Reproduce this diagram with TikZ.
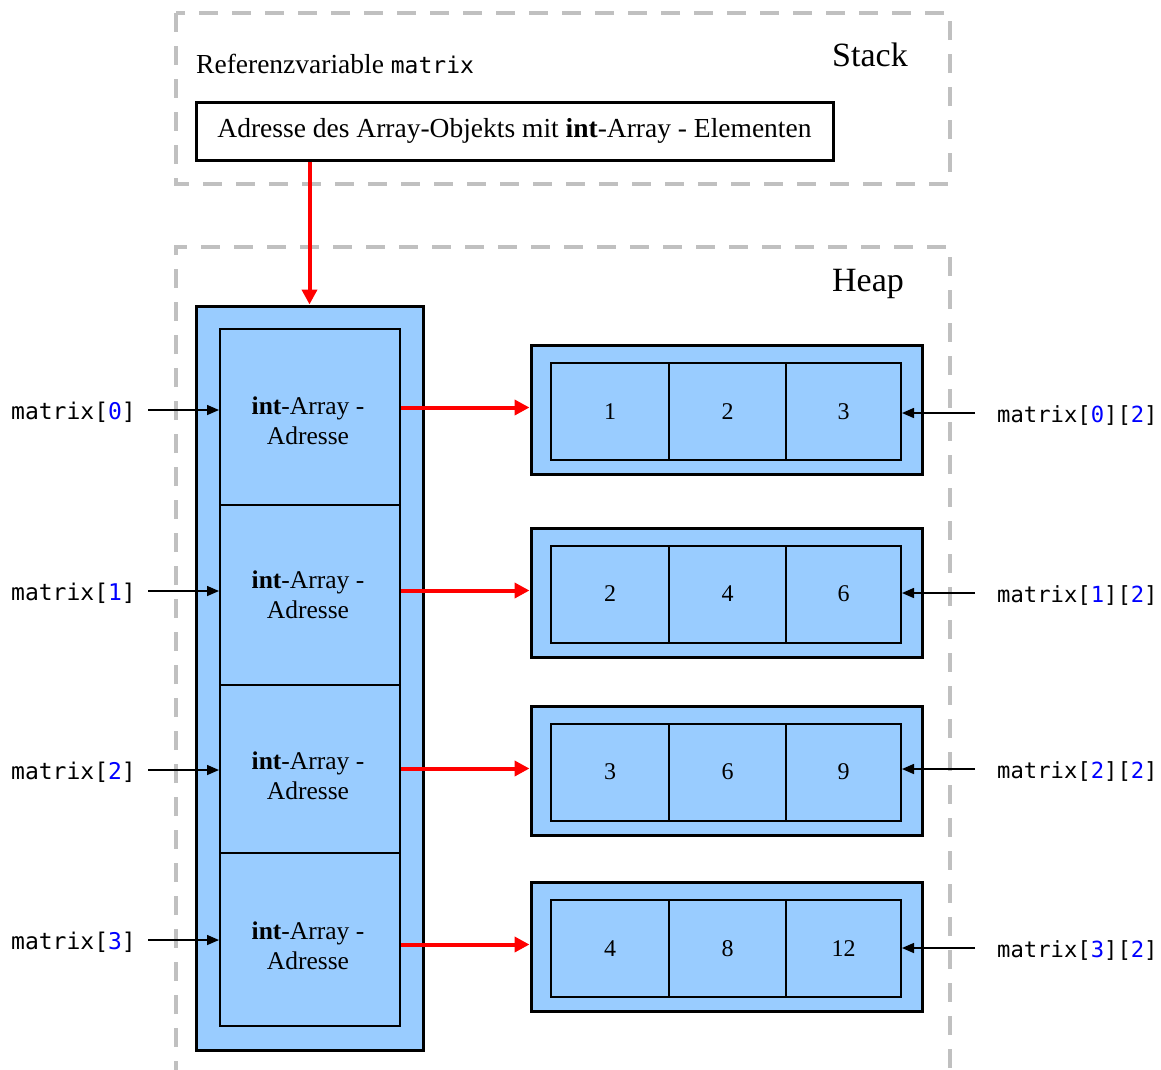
\documentclass[tikz,border=0pt]{standalone}
\usepackage{fontspec}
\setmainfont{Liberation Serif}
\setmonofont{DejaVu Sans Mono}
\usetikzlibrary{arrows.meta}
\definecolor{boxblue}{RGB}{153,204,255}
\definecolor{dashgray}{RGB}{192,192,192}
\definecolor{idxblue}{RGB}{0,0,255}
\newcommand{\mtx}[1]{\texttt{matrix[\textcolor{idxblue}{#1}]}}
\newcommand{\mtxx}[1]{\texttt{matrix[\textcolor{idxblue}{#1}][\textcolor{idxblue}{2}]}}
\begin{document}
\begin{tikzpicture}[x=1pt,y=-1pt,
  every node/.style={font=\fontsize{24}{30}\selectfont},
  dashbox/.style={draw=dashgray,line width=4pt,dash pattern=on 19pt off 14pt},
  outerbox/.style={draw,line width=3pt,fill=boxblue,inner sep=0pt},
  cellbox/.style={draw,line width=2pt,fill=boxblue,inner sep=0pt,align=center},
  celltext/.style={align=center,inner sep=0pt,font=\fontsize{25.5}{30}\selectfont},
  plainbox/.style={draw,line width=3pt,inner sep=0pt,font=\fontsize{27.5}{32}\selectfont},
  lab/.style={inner sep=0pt,font=\fontsize{23}{27}\selectfont},
  rlab/.style={inner sep=0pt,font=\fontsize{22.2}{27}\selectfont},
  big/.style={font=\fontsize{34}{40}\selectfont},
  blk/.style={line width=1.5pt,-{Triangle[length=12pt,width=10pt]}},
  redarr/.style={draw=red,line width=4pt,-{Triangle[length=15pt,width=15pt]}}]
\useasboundingbox (0,0) rectangle (1161,1069);

% stack and heap frames
\draw[dashbox] (176,13) rectangle (950,184);
\draw[dashbox] (176,1080) -- (176,247) -- (950,247) -- (950,1080);
\node[big] (stack) at (870,55) {Stack};
\node[big] (heap) at (868,284) {Heap};

% reference variable
\node[anchor=west,inner sep=0pt,font=\fontsize{27.5}{32}\selectfont] (refvar) at (196,64) {Referenzvariable \texttt{\fontsize{23}{27}\selectfont matrix}};
\node[plainbox,minimum width=637pt,minimum height=58pt] (addr) at (514.5,131)
  {Adresse des Array-Objekts mit \textbf{int}-Array - Elementen};

% outer array
\node[outerbox,minimum width=227pt,minimum height=744pt] (outer) at (309.5,678) {};
\node[cellbox,minimum width=180pt,minimum height=176pt] (c0) at (310,417) {};
\node[cellbox,minimum width=180pt,minimum height=180pt] (c1) at (310,595) {};
\node[cellbox,minimum width=180pt,minimum height=168pt] (c2) at (310,769) {};
\node[cellbox,minimum width=180pt,minimum height=173pt] (c3) at (310,939.5) {};
\node[celltext] (t0) at (308,421) {\textbf{int}-Array -\\Adresse};
\node[celltext] (t1) at (308,595) {\textbf{int}-Array -\\Adresse};
\node[celltext] (t2) at (308,776) {\textbf{int}-Array -\\Adresse};
\node[celltext] (t3) at (308,946) {\textbf{int}-Array -\\Adresse};

\draw[redarr] (addr.south -| outer.north) -- (outer.north);

% inner arrays
\foreach \i/\y/\iy/\a/\b/\c in {0/409.5/411.5/1/2/3, 1/592.5/594/2/4/6, 2/770.5/772/3/6/9, 3/946.5/948.5/4/8/12}{
  \node[outerbox,minimum width=391pt,minimum height=129pt] (row\i) at (726.5,\y) {};
  \node[cellbox,minimum width=118pt,minimum height=97pt] (e\i a) at (610,\iy) {\a};
  \node[cellbox,minimum width=117pt,minimum height=97pt] (e\i b) at (727.5,\iy) {\b};
  \node[cellbox,minimum width=115pt,minimum height=97pt] (e\i c) at (843.5,\iy) {\c};
  \draw[redarr] ([yshift=2pt]row\i.west -| c\i.east) -- ([yshift=2pt]row\i.west);
}

% left labels
\node[lab,anchor=east] (l0) at (136,412) {\mtx{0}};
\node[lab,anchor=east] (l1) at (136,593) {\mtx{1}};
\node[lab,anchor=east] (l2) at (136,772) {\mtx{2}};
\node[lab,anchor=east] (l3) at (136,942) {\mtx{3}};
\foreach \i in {0,1,2,3}{
  \draw[blk,shorten <=12pt] ([yshift=2pt]l\i.east) -- ([yshift=2pt]l\i.east -| c\i.west);
}

% right labels
\node[rlab,anchor=west] (r0) at (997,416) {\mtxx{0}};
\node[rlab,anchor=west] (r1) at (997,596) {\mtxx{1}};
\node[rlab,anchor=west] (r2) at (997,772) {\mtxx{2}};
\node[rlab,anchor=west] (r3) at (997,951) {\mtxx{3}};
\foreach \i in {0,1,2,3}{
  \draw[blk,shorten <=22pt] ([yshift=3pt]r\i.west) -- ([yshift=3pt]r\i.west -| e\i c.east);
}
\end{tikzpicture}
\end{document}
